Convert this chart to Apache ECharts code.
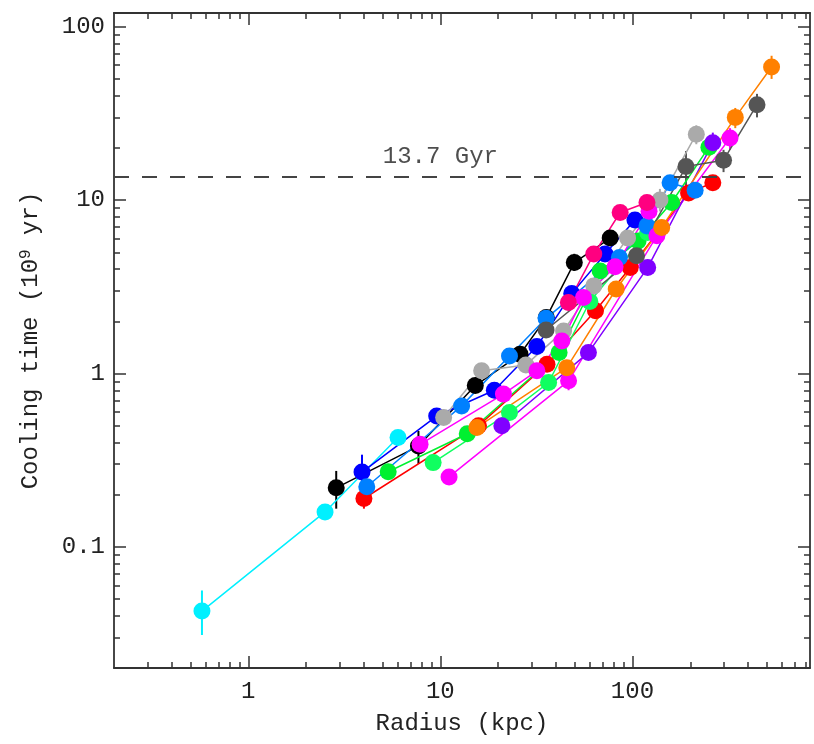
<!DOCTYPE html>
<html>
<head>
<meta charset="utf-8">
<script src="https://cdn.jsdelivr.net/npm/echarts@6/dist/echarts.min.js"></script>
<style>html,body{margin:0;padding:0;background:#fff}#c{width:814px;height:744px}</style>
</head>
<body>
<div id="c"></div>
<script>
// ---- data (radius kpc, cooling time 1e9 yr) ----
const cyanData    = [[0.574,0.0426],[2.51,0.159],[6.02,0.427]];
const blackData   = [[2.87,0.219],[7.69,0.381],[15.2,0.852],[26,1.29],[35.6,2.1],[49.8,4.36],[76.6,6.04]];
const blueData    = [[3.91,0.27],[9.57,0.568],[19.1,0.80],[31.8,1.43],[48.3,2.89],[72,4.88],[103,7.67]];
const azureData   = [[4.14,0.222],[12.9,0.65],[22.9,1.26],[35.5,2.08],[85.5,4.67],[119,7.1],[157,12.6],[212,11.4]];
const redData     = [[4.0,0.19],[15.8,0.50],[35.9,1.13],[64.2,2.30],[97.4,4.08],[196,11.0],[262,12.6]];
const greenAData  = [[5.35,0.271],[13.8,0.449],[41.5,1.32],[67.9,3.9],[107,5.8],[160,9.68],[250,20.2]];
const greenBData  = [[9.17,0.306],[22.9,0.595],[36.6,0.887],[60,2.6],[120,6.5]];
const magentaAData= [[7.84,0.39],[21.3,0.76],[31.8,1.036],[42.9,1.54],[55.6,2.74],[81.2,4.12],[122,8.61]];
const magentaBData= [[11.1,0.253],[46.5,0.907],[134,6.22],[322,22.8]];
const pinkData    = [[46.4,2.57],[62.9,4.88],[86.3,8.48],[119,9.68]];
const lgrayData   = [[10.4,0.557],[16.4,1.036],[27.9,1.12],[43.8,1.76],[62.9,3.2],[94.3,6.04],[139,10.0],[215,24]];
const dgrayData   = [[35.5,1.78],[105,4.77],[190,15.6],[298,17.0],[445,35.5]];
const orangeData  = [[15.5,0.488],[45.5,1.08],[82.3,3.07],[142,6.95],[343,30],[530,58.6]];
const purpleData  = [[20.9,0.499],[59,1.32],[120,4.08],[262,21.4]];

// error bars: [radius, low, high, colour key]
const errBars = [
  [0.574, 0.031, 0.056, 'cyan'],
  [2.87, 0.166, 0.274, 'black'],
  [7.69, 0.301, 0.466, 'black'],
  [3.91, 0.24, 0.34, 'blue'],
  [4.0, 0.166, 0.215, 'red'],
  [26, 1.18, 1.40, 'black'],
  [35.6, 1.9, 2.3, 'black'],
  [49.8, 3.9, 4.9, 'black'],
  [46.5, 0.80, 1.03, 'magentaB'],
  [190, 12.2, 19.2, 'dgray'],
  [298, 14.5, 19.5, 'dgray'],
  [445, 30, 41, 'dgray'],
  [530, 50, 68, 'orange'],
  [343, 26, 34, 'orange'],
  [262, 18.5, 24.5, 'purple'],
  [322, 19.5, 26, 'magentaB'],
  [215, 21, 27, 'lgray'],
  [139, 8.6, 11.6, 'lgray']
];

const xMajor = [1, 10, 100];
const xMinor = [0.3,0.4,0.5,0.6,0.7,0.8,0.9,2,3,4,5,6,7,8,9,20,30,40,50,60,70,80,90,200,300,400,500,600,700,800];
const yMajor = [0.1, 1, 10, 100];
const yMinor = [0.02,0.03,0.04,0.05,0.06,0.07,0.08,0.09,0.2,0.3,0.4,0.5,0.6,0.7,0.8,0.9,2,3,4,5,6,7,8,9,20,30,40,50,60,70,80,90];
const ageLine = 13.7;
const ageLabel = '13.7 Gyr';

const colours = {
  cyan: '#00f0ff', red: '#ff0000', greenA: '#00f030', greenB: '#10ff60', black: '#000000',
  blue: '#0000ff', azure: '#0080ff', magentaB: '#ff00ff', purple: '#8000ff', orange: '#ff8000',
  lgray: '#aaaaaa', magentaA: '#ff00ff', pink: '#ff0080', dgray: '#555555'
};
const seriesDefs = [
  ['cyan', cyanData], ['red', redData], ['greenA', greenAData], ['greenB', greenBData],
  ['black', blackData], ['blue', blueData], ['azure', azureData], ['magentaB', magentaBData],
  ['purple', purpleData], ['orange', orangeData], ['lgray', lgrayData], ['magentaA', magentaAData],
  ['pink', pinkData], ['dgray', dgrayData]
];

const FONT = 'Liberation Mono';
const FS = 24;
const AX = '#333';
const grid = {left: 114, top: 13, right: 4, bottom: 76};

function xAx(pos, major, showLabel, name) {
  return {
    type: 'log', min: 0.2, max: 840, position: pos,
    axisLine: {show: major, lineStyle: {color: AX, width: 1.8}},
    axisTick: {show: true, inside: true, length: major ? 12 : 6, customValues: major ? xMajor : xMinor, lineStyle: {color: AX, width: 1.5}},
    axisLabel: {show: showLabel, customValues: xMajor, formatter: v => String(v), fontFamily: FONT, fontSize: FS, color: '#222', margin: 12},
    splitLine: {show: false}, minorTick: {show: false},
    name: name || '', nameLocation: 'middle', nameGap: 44,
    nameTextStyle: {fontFamily: FONT, fontSize: FS, color: '#222'}
  };
}
function yAx(pos, major, showLabel, name) {
  return {
    type: 'log', min: 0.02, max: 120, position: pos,
    axisLine: {show: major, lineStyle: {color: AX, width: 1.8}},
    axisTick: {show: true, inside: true, length: major ? 12 : 6, customValues: major ? yMajor : yMinor, lineStyle: {color: AX, width: 1.5}},
    axisLabel: {show: showLabel, customValues: yMajor, formatter: v => String(v), fontFamily: FONT, fontSize: FS, color: '#222', margin: 9},
    splitLine: {show: false}, minorTick: {show: false},
    name: name || '', nameLocation: 'middle', nameGap: 70, nameRotate: 90,
    nameTextStyle: {fontFamily: FONT, fontSize: FS, color: '#222',
      rich: {sup: {fontFamily: FONT, fontSize: 16, color: '#222', verticalAlign: 'top', padding: [0,0,10,0]}}}
  };
}

const series = [];
series.push({
  type: 'custom', xAxisIndex: 0, yAxisIndex: 0, z: 2, silent: true,
  data: errBars,
  renderItem: (params, api) => {
    const p1 = api.coord([api.value(0), api.value(1)]);
    const p2 = api.coord([api.value(0), api.value(2)]);
    const key = errBars[params.dataIndex][3];
    return {type: 'line', shape: {x1: p1[0], y1: p1[1], x2: p2[0], y2: p2[1]},
      style: {stroke: colours[key], lineWidth: 2}};
  }
});
seriesDefs.forEach(([n, d]) => series.push({
  name: n, type: 'line', data: d, xAxisIndex: 0, yAxisIndex: 0,
  symbol: 'circle', symbolSize: 17, showSymbol: true,
  lineStyle: {color: colours[n], width: 1.5}, itemStyle: {color: colours[n]},
  emphasis: {disabled: true}, z: 3
}));
series.push({
  type: 'scatter', data: [[10, ageLine]], symbolSize: 0, xAxisIndex: 0, yAxisIndex: 0,
  label: {show: true, position: 'top', distance: 8, formatter: ageLabel, fontFamily: FONT, fontSize: FS, color: '#222'},
  markLine: {silent: true, symbol: 'none', label: {show: false},
    lineStyle: {color: '#444', width: 2, type: [15, 13]},
    data: [{yAxis: ageLine}]},
  z: 2
});

const chart = echarts.init(document.getElementById('c'), null, {renderer: 'canvas'});
chart.setOption({
  animation: false,
  backgroundColor: '#fff',
  grid: grid,
  xAxis: [xAx('bottom', true, true, 'Radius (kpc)'), xAx('bottom', false, false), xAx('top', true, false), xAx('top', false, false)],
  yAxis: [yAx('left', true, true, 'Cooling time (10{sup|9} yr)'), yAx('left', false, false), yAx('right', true, false), yAx('right', false, false)],
  series: series
});
</script>
</body>
</html>
